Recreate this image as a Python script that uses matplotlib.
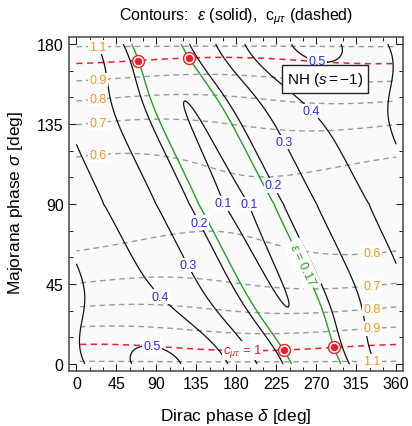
import numpy as np
import matplotlib
matplotlib.use("Agg")
import matplotlib.pyplot as plt
from matplotlib.ticker import MultipleLocator

plt.rcParams['font.family'] = ['Liberation Sans', 'DejaVu Sans']
plt.rcParams['mathtext.fontset'] = 'custom'
plt.rcParams['mathtext.rm'] = 'Liberation Sans'
plt.rcParams['mathtext.it'] = 'Liberation Sans:italic'
plt.rcParams['mathtext.sf'] = 'Liberation Sans'
plt.rcParams['mathtext.fallback'] = 'stixsans'

# ---------------------------------------------------------------------------
# Phase grid (degrees)
delta_range = [0.0, 360.0]
sigma_range = [0.0, 180.0]

# epsilon(delta, sigma): valley along delta + sigma = valley_offset
valley_offset = 270.0
amp_mid, amp_edge, amp_width = 0.405, 0.095, 26.0
floor_mid, floor_slope, floor_edge, floor_width = 0.0854, 0.013, 0.0216, 22.0

# c_mu_tau(delta, sigma)
c_const, c_sin, c_sin_pow = 1.125, 0.5613, 0.82
c_phase_amp, c_phase_edge = 0.02, 4.0

# contour levels
eps_levels = [0.1, 0.2, 0.3, 0.4, 0.5]
eps_mark = 0.17
c_levels = [0.6, 0.7, 0.8, 0.9, 1.1]
c_unity = 1.0

# label anchor points (delta, sigma)
eps_label_pos = [(84, 5), (273, 175), (258, 139), (99, 40), (233, 124.5),
                 (123, 55), (138, 79.5), (220, 100), (157, 90), (198, 90)]
c_label_pos = [(24, 177), (24, 160), (24, 149), (24, 136), (24, 118),
               (333, 61.7), (333, 44), (333, 31), (333, 20), (333, 2.4)]
eps_mark_label_pos = [(252.6, 55.6)]
c_unity_label_pos = [(187, 7.5)]

xticks = [0, 45, 90, 135, 180, 225, 270, 315, 360]
yticks = [0, 45, 90, 135, 180]


def eps_field(d, s):
    edge = np.minimum(s, 180.0 - s)
    u = np.radians(d + s - valley_offset)
    amp = amp_mid + amp_edge * np.exp(-(edge / amp_width) ** 2)
    floor = (floor_mid
             + floor_slope * np.sqrt(np.abs(np.cos(np.radians(s))))
             + floor_edge * np.exp(-(edge / floor_width) ** 2))
    return np.sqrt(floor ** 2 + (amp * np.sin(u / 2.0)) ** 2)


def c_field(d, s):
    edge = np.minimum(s, 180.0 - s)
    phase = c_phase_amp * (1.0 - np.exp(-(edge / c_phase_edge) ** 2))
    return (c_const
            - c_sin * np.abs(np.sin(np.radians(s))) ** c_sin_pow
            + phase * np.cos(np.radians(d - 2.0 * s)))


delta = np.linspace(delta_range[0], delta_range[1], 241)
sigma = np.linspace(sigma_range[0], sigma_range[1], 181)
D, S = np.meshgrid(delta, sigma)
E = eps_field(D, S)
C = c_field(D, S)

BLUE = '#2a2af0'
ORANGE = '#f7941d'
GREEN = '#1fa31f'
RED = '#e8202a'
GRAY = '#9a9a9a'

fig = plt.figure(figsize=(4.12, 4.27), dpi=100)
ax = fig.add_axes([69.3 / 412, 1 - 371.7 / 427, (403.3 - 69.3) / 412, (371.7 - 38.3) / 427])
ax.set_facecolor('#fafafa')

dash = [(0, (4, 3))]
cs_c = ax.contour(D, S, C, levels=c_levels, colors=GRAY, linewidths=1.0,
                  linestyles=dash, zorder=2)
cs_red = ax.contour(D, S, C, levels=[c_unity], colors=RED, linewidths=1.1,
                    linestyles=dash, zorder=2)
cs_e = ax.contour(D, S, E, levels=eps_levels, colors='#111111', linewidths=0.9,
                  zorder=3)
cs_g = ax.contour(D, S, E, levels=[eps_mark], colors=GREEN, linewidths=1.0,
                  zorder=3)

box = dict(facecolor='white', edgecolor='none', pad=0.8)

lab = ax.clabel(cs_e, manual=eps_label_pos, inline=False, fmt='%.1f',
                fontsize=9, colors=BLUE)
for t in lab:
    t.set_rotation(0)
    t.set_bbox(box)
    t.set_zorder(5)

lab = ax.clabel(cs_c, manual=c_label_pos, inline=False, fmt='%.1f',
                fontsize=9, colors=ORANGE)
for t in lab:
    t.set_rotation(0)
    t.set_bbox(box)
    t.set_zorder(5)

lab = ax.clabel(cs_g, manual=eps_mark_label_pos, inline=False,
                fmt={eps_mark: r'$\epsilon$ = 0.17'}, fontsize=9, colors=GREEN)
for t in lab:
    t.set_bbox(dict(facecolor='white', edgecolor='none', pad=2.0))
    t.set_zorder(5)

lab = ax.clabel(cs_red, manual=c_unity_label_pos, inline=False,
                fmt={c_unity: r'$c_{\mu\tau}$ = 1'}, fontsize=9.5, colors=RED)
for t in lab:
    t.set_rotation(0)
    t.set_bbox(box)
    t.set_zorder(5)

# intersections of the c = 1 curves with the epsilon = 0.17 curves
pts = []
for seg in cs_red.allsegs[0]:
    if len(seg) < 2:
        continue
    e = eps_field(seg[:, 0], seg[:, 1]) - eps_mark
    idx = np.where(np.sign(e[:-1]) != np.sign(e[1:]))[0]
    for i in idx:
        t = e[i] / (e[i] - e[i + 1])
        pts.append(seg[i] + t * (seg[i + 1] - seg[i]))
pts = np.array(pts)
if len(pts):
    ax.plot(pts[:, 0], pts[:, 1], 'o', ms=8.6, mfc='white', mec=RED, mew=1.0, zorder=6)
    ax.plot(pts[:, 0], pts[:, 1], 'o', ms=4.3, color=RED, mec=RED, zorder=7)

ax.text(0.765, 0.875, r'NH ($s = -1$)', transform=ax.transAxes, fontsize=11,
        ha='center', va='center', zorder=8,
        bbox=dict(boxstyle='square,pad=0.3', facecolor='white', edgecolor='#222222', lw=1.0))

ax.set_xlim(-8, 368)
ax.set_ylim(-3.8, 183.8)
ax.set_xticks(xticks)
ax.set_yticks(yticks)
ax.xaxis.set_minor_locator(MultipleLocator(15))
ax.yaxis.set_minor_locator(MultipleLocator(15))
ax.tick_params(which='both', direction='in', top=True, right=True, colors='#222222',
               labelsize=11.5, labelcolor='black')
ax.tick_params(which='major', length=5, width=0.8, pad=4)
ax.tick_params(which='minor', length=3, width=0.7)
for sp in ax.spines.values():
    sp.set_color('#555555')
    sp.set_linewidth(1.2)

fig.text(236 / 412, 1 - 20.5 / 427, r'Contours:  $\epsilon$ (solid),  c$_{\mu\tau}$ (dashed)',
         ha='center', va='baseline', fontsize=11.5)
fig.text(236 / 412, 6 / 427, r'Dirac phase $\delta$ [deg]', ha='center', va='baseline',
         fontsize=12.5)
fig.text(16 / 412, 1 - 203 / 427, r'Majorana phase $\sigma$ [deg]', ha='center', va='center',
         rotation=90, fontsize=12.5)

fig.savefig('out.png', dpi=100, facecolor='white')
